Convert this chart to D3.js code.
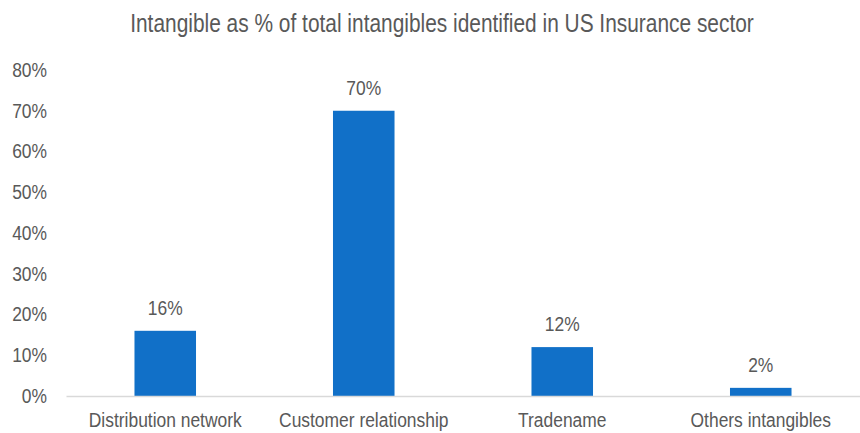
<!DOCTYPE html>
<html>
<head>
<meta charset="utf-8">
<script src="https://cdn.jsdelivr.net/npm/d3@7"></script>
<style>
  body { margin: 0; background: #fff; }
  text { font-family: "Liberation Sans", Arial, sans-serif; fill: #595959; }
</style>
</head>
<body>
<div id="chart"></div>
<script>
// chart data
var categories = ["Distribution network", "Customer relationship", "Tradename", "Others intangibles"];
var shares = [16, 70, 12, 2];
var yTicks = [0, 10, 20, 30, 40, 50, 60, 70, 80];
var title = "Intangible as % of total intangibles identified in US Insurance sector";

var svgWidth = 860;
var svgHeight = 433;

var margin = { top: 70, right: 0, bottom: 37, left: 66 };
var width = svgWidth - margin.left - margin.right;
var height = svgHeight - margin.top - margin.bottom;

// the original uses a narrow font, so squeeze the text horizontally
var squeeze = 0.83;

var svg = d3.select("#chart")
    .append("svg")
    .attr("width", svgWidth)
    .attr("height", svgHeight);

var chartGroup = svg.append("g")
    .attr("transform", `translate(${margin.left}, ${margin.top})`);

var xScale = d3.scaleBand()
    .domain(categories)
    .range([0, width])
    .paddingInner(0.69)
    .paddingOuter(0.345);

var yScale = d3.scaleLinear()
    .domain([0, 80])
    .range([height, 0]);

// title
svg.append("text")
    .attr("transform", `translate(442, 32) scale(0.836, 1)`)
    .attr("text-anchor", "middle")
    .attr("font-size", "25px")
    .text(title);

// y axis (labels only)
var yAxis = chartGroup.append("g")
    .call(d3.axisLeft(yScale).tickValues(yTicks).tickFormat(d => d + "%").tickSize(0));
yAxis.select(".domain").remove();
yAxis.selectAll("text")
    .attr("x", 0)
    .attr("dy", "0.3em")
    .attr("transform", `translate(-19, 0) scale(${squeeze}, 1)`)
    .attr("font-size", "21px")
    .attr("font-family", null)
    .style("fill", "#595959");

// bars
chartGroup.selectAll("rect.bar")
    .data(shares)
    .enter()
    .append("rect")
    .attr("class", "bar")
    .attr("x", (d, i) => xScale(categories[i]))
    .attr("y", d => yScale(d))
    .attr("width", xScale.bandwidth())
    .attr("height", d => height - yScale(d))
    .attr("fill", "#1170c8");

// value labels
chartGroup.selectAll("text.values")
    .data(shares)
    .enter()
    .append("text")
    .attr("class", "values")
    .attr("transform", (d, i) => `translate(${xScale(categories[i]) + xScale.bandwidth() / 2}, ${yScale(d) - 16}) scale(${squeeze}, 1)`)
    .attr("text-anchor", "middle")
    .attr("font-size", "21px")
    .text(d => d + "%");

// x axis
var xAxis = chartGroup.append("g")
    .attr("transform", `translate(0, ${height})`)
    .call(d3.axisBottom(xScale).tickSize(0));
xAxis.select(".domain").attr("stroke", "#d9d9d9").attr("stroke-width", 1.5);
xAxis.selectAll("text")
    .attr("y", 0)
    .attr("dy", null)
    .attr("transform", `translate(0, 31) scale(${squeeze}, 1)`)
    .attr("font-size", "21px")
    .attr("font-family", null)
    .style("fill", "#595959");
</script>
</body>
</html>
